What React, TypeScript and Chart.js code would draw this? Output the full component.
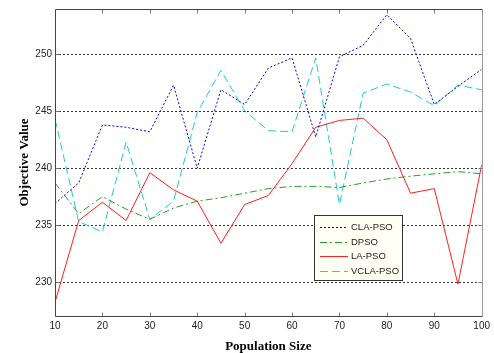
import React, { useEffect, useRef } from "react";
import { Chart, registerables } from "chart.js";

Chart.register(...registerables);

const populationSizes = [10, 15, 20, 25, 30, 35, 40, 45, 50, 55, 60, 65, 70, 75, 80, 85, 90, 95, 100];
const claPso = [236.9, 238.7, 243.8, 243.6, 243.2, 247.3, 240.0, 246.9, 245.6, 248.8, 249.7, 242.75, 249.8, 250.8, 253.5, 251.4, 245.6, 247.2, 248.7];
const dpso = [238.7, 236.0, 237.5, 236.4, 235.5, 236.5, 237.1, 237.4, 237.8, 238.2, 238.4, 238.4, 238.3, 238.7, 239.05, 239.3, 239.5, 239.7, 239.5];
const laPso = [228.2, 235.4, 237.0, 235.4, 239.6, 238.1, 237.1, 233.4, 236.8, 237.6, 240.4, 243.6, 244.2, 244.4, 242.5, 237.8, 238.2, 229.8, 240.3];
const vclaPso = [244.3, 235.3, 234.4, 242.3, 235.5, 237.1, 244.9, 248.6, 245.05, 243.3, 243.2, 249.7, 236.8, 246.6, 247.4, 246.7, 245.5, 247.3, 246.9];
const seriesLabels = ["CLA-PSO", "DPSO", "LA-PSO", "VCLA-PSO"];
const xTicks = [10, 20, 30, 40, 50, 60, 70, 80, 90, 100];
const yTicks = [230, 235, 240, 245, 250];

const seriesColors = ["#0000ff", "#2e9a2e", "#ff2020", "#22cccc"];
const seriesDashes: number[][] = [[2, 2], [7, 3, 2, 3], [], [8, 4]];

function fillDashed(ctx: CanvasRenderingContext2D, x0: number, x1: number, y: number, dash: number[]) {
  if (!dash.length) {
    ctx.fillRect(x0, y, x1 - x0, 1);
    return;
  }
  let x = x0;
  let k = 0;
  while (x < x1) {
    const len = dash[k % dash.length];
    if (k % 2 === 0) ctx.fillRect(x, y, Math.min(len, x1 - x), 1);
    x += len;
    k++;
  }
}

const framePlugin = {
  id: "matlabFrame",
  beforeDatasetsDraw(chart: any) {
    const { ctx, chartArea, scales } = chart;
    const { left, right } = chartArea;
    ctx.save();
    ctx.strokeStyle = "#333";
    ctx.lineWidth = 1;
    ctx.setLineDash([2, 2]);
    yTicks.forEach((v) => {
      const py = Math.round(scales.y.getPixelForValue(v)) + 0.5;
      ctx.beginPath();
      ctx.moveTo(left, py);
      ctx.lineTo(right, py);
      ctx.stroke();
    });
    ctx.restore();
  },
  afterDatasetsDraw(chart: any) {
    const { ctx, chartArea, scales } = chart;
    const L = Math.round(chartArea.left) + 0.5;
    const R = Math.round(chartArea.right) + 0.5;
    const T = Math.round(chartArea.top) + 0.5;
    const B = Math.round(chartArea.bottom) + 0.5;
    ctx.save();
    ctx.setLineDash([]);
    ctx.lineWidth = 1;
    ctx.strokeStyle = "#777";
    xTicks.forEach((v) => {
      if (v === 10 || v === 100) return;
      const px = Math.round(scales.x.getPixelForValue(v)) + 0.5;
      ctx.beginPath();
      ctx.moveTo(px, B);
      ctx.lineTo(px, B - 4);
      ctx.moveTo(px, T);
      ctx.lineTo(px, T + 4);
      ctx.stroke();
    });
    yTicks.forEach((v) => {
      const py = Math.round(scales.y.getPixelForValue(v)) + 0.5;
      ctx.beginPath();
      ctx.moveTo(L, py);
      ctx.lineTo(L + 4, py);
      ctx.moveTo(R, py);
      ctx.lineTo(R - 4, py);
      ctx.stroke();
    });
    ctx.strokeStyle = "#444";
    ctx.beginPath();
    ctx.moveTo(L, T);
    ctx.lineTo(R, T);
    ctx.moveTo(L, T);
    ctx.lineTo(L, B);
    ctx.lineTo(R, B);
    ctx.stroke();
    ctx.strokeStyle = "#999";
    ctx.beginPath();
    ctx.moveTo(R, T);
    ctx.lineTo(R, B);
    ctx.stroke();
    ctx.restore();
  },
  afterDraw(chart: any) {
    const ctx: CanvasRenderingContext2D = chart.ctx;
    const bx = 314.5, by = 215.5, bw = 88, bh = 65;
    ctx.save();
    ctx.setLineDash([]);
    ctx.fillStyle = "#fffff4";
    ctx.fillRect(bx, by, bw, bh);
    ctx.strokeStyle = "#333";
    ctx.lineWidth = 1;
    ctx.strokeRect(bx, by, bw, bh);
    const rows = [227, 242, 256, 271];
    seriesLabels.forEach((label, i) => {
      ctx.fillStyle = seriesColors[i];
      fillDashed(ctx, 320, 348, rows[i], seriesDashes[i]);
      ctx.fillStyle = "#222";
      ctx.font = "9.5px 'Liberation Sans', Arial, sans-serif";
      ctx.textBaseline = "middle";
      ctx.textAlign = "left";
      ctx.fillText(label, 351, rows[i] + 0.5);
    });
    ctx.restore();
  },
};

export default function App() {
  const canvasRef = useRef<HTMLCanvasElement | null>(null);

  useEffect(() => {
    document.body.style.margin = "0";
    const canvas = canvasRef.current;
    if (!canvas) return;
    const tickFont = { family: "'Liberation Sans', Arial, sans-serif", size: 10 };
    const titleFont = { family: "'Liberation Serif', 'Times New Roman', serif", size: 13, weight: "bold" as const, lineHeight: 1 };
    const series = [claPso, dpso, laPso, vclaPso];
    const chart = new Chart(canvas, {
      type: "line",
      data: {
        labels: populationSizes,
        datasets: series.map((vals, k) => ({
          label: seriesLabels[k],
          data: populationSizes.map((x, i) => ({ x, y: vals[i] })),
          borderColor: seriesColors[k],
          borderWidth: 1,
          borderDash: seriesDashes[k],
          pointRadius: 0,
          tension: 0,
          fill: false,
        })),
      },
      options: {
        animation: false,
        responsive: false,
        devicePixelRatio: 1,
        layout: { padding: { left: 0, top: 4, right: 11, bottom: 0 } },
        plugins: { legend: { display: false }, tooltip: { enabled: false } },
        scales: {
          x: {
            type: "linear",
            min: 10,
            max: 100,
            grid: { display: false, drawTicks: false },
            border: { display: false },
            afterBuildTicks: (s: any) => { s.ticks = xTicks.map((v) => ({ value: v })); },
            afterFit: (s: any) => { s.height = 37; },
            ticks: { font: tickFont, color: "#222", padding: 4, maxRotation: 0, autoSkip: false },
            title: { display: true, text: "Population Size", font: titleFont, color: "#000", padding: { top: 0, bottom: 0 } },
          },
          y: {
            type: "linear",
            min: 227,
            max: 254,
            grid: { display: false, drawTicks: false },
            border: { display: false },
            afterBuildTicks: (s: any) => { s.ticks = yTicks.map((v) => ({ value: v })); },
            afterFit: (s: any) => { s.width = 55; },
            ticks: { font: tickFont, color: "#222", padding: 3, autoSkip: false },
            title: { display: true, text: "Objective Value", font: titleFont, color: "#000", padding: { top: 18, bottom: 0 } },
          },
        },
      },
      plugins: [framePlugin],
    });
    return () => chart.destroy();
  }, []);

  return <canvas ref={canvasRef} width={494} height={353} style={{ display: "block", width: 494, height: 353 }} />;
}
